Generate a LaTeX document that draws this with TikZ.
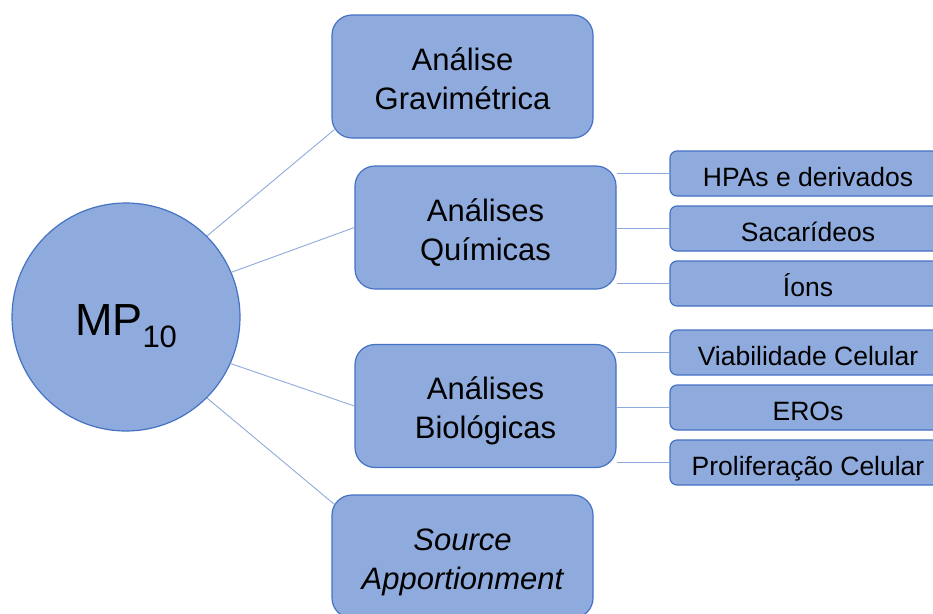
\documentclass[tikz,border=0pt]{standalone}
\usepackage{fontspec}
\setmainfont{Liberation Sans}
\usetikzlibrary{calc}
\definecolor{boxfill}{HTML}{8FAADC}
\definecolor{boxline}{HTML}{4472C4}
\definecolor{conn}{HTML}{8FAADC}
\newcommand{\mytopstrut}{\rule{0pt}{34.5pt}}
\newcommand{\mybotstrut}{\rule[-7.75pt]{0pt}{7.75pt}}
\begin{document}
\begin{tikzpicture}[x=1pt,y=-1pt,
  bigbox/.style={draw=boxline,fill=boxfill,line width=1.2pt,rounded corners=20pt,
    minimum width=261pt,minimum height=123pt,inner sep=0pt,align=center,
    font=\fontsize{31}{39}\selectfont},
  smallbox/.style={draw=boxline,fill=boxfill,line width=1.2pt,rounded corners=7pt,
    minimum width=276pt,minimum height=45pt,inner sep=0pt,text height=26pt,text depth=0pt,
    font=\fontsize{26.5}{30}\selectfont},
  hub/.style={circle,draw=boxline,fill=boxfill,line width=1.2pt,minimum size=228pt,inner sep=0pt,
    text height=36pt,text depth=0pt,font=\fontsize{45}{50}\selectfont},
  link/.style={draw=conn,line width=0.9pt}]
\clip (0,0) rectangle (933,613);
\node[hub] (c) at (126,317) {MP\raisebox{-12pt}{\fontsize{31}{31}\selectfont 10}};
\node[bigbox] (b1) at (462.5,76.5) {\mytopstrut Análise\\Gravimétrica\mybotstrut};
\node[bigbox] (b2) at (485.5,227.5) {\mytopstrut Análises\\Químicas\mybotstrut};
\node[bigbox] (b3) at (485.5,406) {\mytopstrut Análises\\Biológicas\mybotstrut};
\node[bigbox] (b4) at (462.5,556.5) {\mytopstrut\itshape Source\\\itshape Apportionment\mybotstrut};
\node[smallbox] (s1) at (808,173.5) {HPAs e derivados};
\node[smallbox] (s2) at (808,228.5) {Sacarídeos};
\node[smallbox] (s3) at (808,283.5) {Íons};
\node[smallbox] (s4) at (808,352.5) {Viabilidade Celular};
\node[smallbox] (s5) at (808,407.5) {EROs};
\node[smallbox] (s6) at (808,462.5) {Proliferação Celular};
\draw[link] (c.45) -- ($(b1.south west)+(3,-9)$);
\draw[link] (c.23.5) -- (b2.west);
\draw[link] (c.-24) -- (b3.west);
\draw[link] (c.-45) -- ($(b4.north west)+(3,10)$);
\foreach \s in {s1,s2,s3} \draw[link] (\s.west -| b2.east) -- (\s.west);
\foreach \s in {s4,s5,s6} \draw[link] (\s.west -| b3.east) -- (\s.west);
\end{tikzpicture}
\end{document}
